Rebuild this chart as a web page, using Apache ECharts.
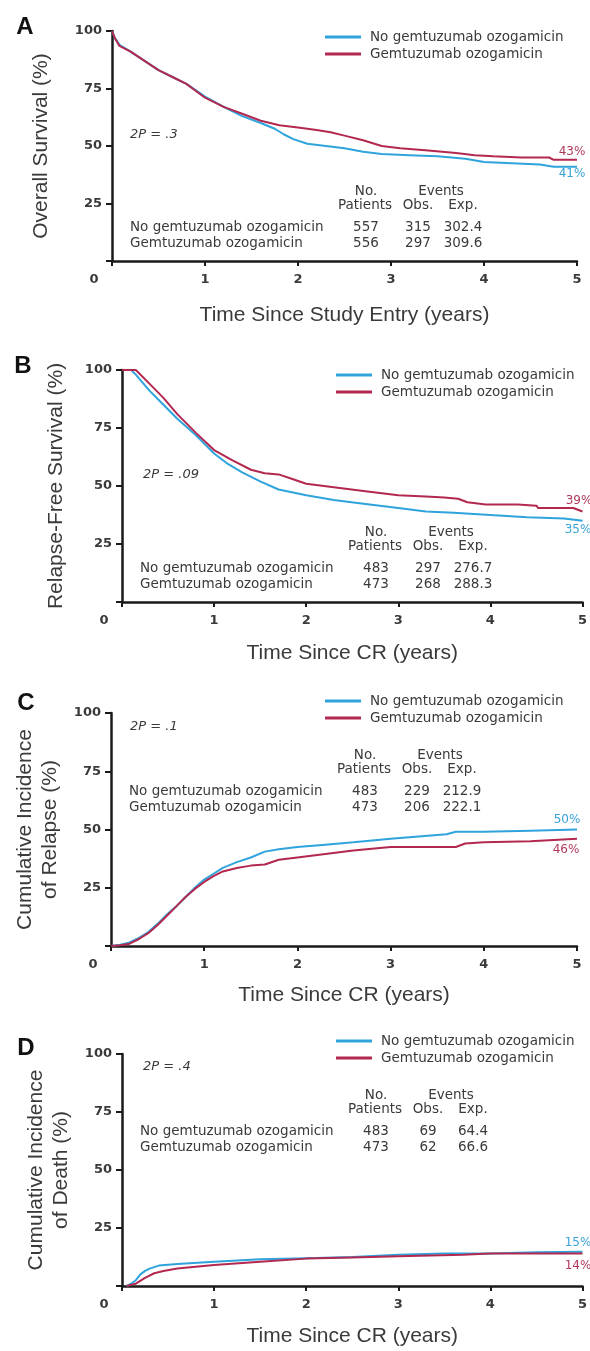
<!DOCTYPE html>
<html><head><meta charset="utf-8">
<script src="https://cdn.jsdelivr.net/npm/echarts/dist/echarts.min.js"></script>
<style>html,body{margin:0;padding:0;background:#fff}#c{width:590px;height:1351px}</style>
</head><body><div id="c"></div>
<script>
// ---------- DATA ----------
const groupNames = ['No gemtuzumab ozogamicin', 'Gemtuzumab ozogamicin'];
const panelLetters = ['A', 'B', 'C', 'D'];
const yTitles = ['Overall Survival (%)', 'Relapse-Free Survival (%)', 'Cumulative Incidence\nof Relapse (%)', 'Cumulative Incidence\nof Death (%)'];
const xTitles = ['Time Since Study Entry (years)', 'Time Since CR (years)', 'Time Since CR (years)', 'Time Since CR (years)'];
const pTexts = ['2P = .3', '2P = .09', '2P = .1', '2P = .4'];
const xTicks = [0, 1, 2, 3, 4, 5];
const yTicks = [0, 25, 50, 75, 100];
const tableHeader = [['No.', 'Events'], ['Patients', 'Obs.', 'Exp.']];

// [time (years), percent]
const osNoGO = [[0,100],[0.03,97],[0.08,94],[0.2,91],[0.35,87],[0.5,83],[0.65,80],[0.8,77],[1.0,71.5],[1.2,67],[1.4,63],[1.6,60],[1.75,57.5],[1.85,55],[1.95,53],[2.1,51],[2.3,50],[2.5,49],[2.7,47.5],[2.9,46.5],[3.2,46],[3.5,45.5],[3.8,44.5],[4.0,43],[4.3,42.5],[4.6,42],[4.75,41],[5,41]];
const osGO = [[0,100],[0.03,97],[0.08,93.5],[0.2,91],[0.35,87],[0.5,83],[0.65,80],[0.8,77],[1.0,71],[1.2,67],[1.4,64],[1.6,61],[1.8,59],[2.0,58],[2.2,57],[2.35,56],[2.5,54.5],[2.7,52.5],[2.9,50],[3.1,49],[3.4,48],[3.7,47],[3.9,46],[4.1,45.5],[4.4,45],[4.7,45],[4.75,44],[5,44]];
const rfsNoGO = [[0,100],[0.1,100],[0.15,98],[0.3,91],[0.45,85],[0.6,79],[0.8,72],[1.0,64],[1.15,59.5],[1.3,56],[1.5,52],[1.7,48.5],[2.0,46],[2.3,44],[2.6,42.5],[3.0,40.5],[3.3,39],[3.6,38.5],[4.0,37.5],[4.4,36.5],[4.8,36],[5,35]];
const rfsGO = [[0,100],[0.15,100],[0.3,94],[0.45,88],[0.6,81],[0.8,73],[1.0,65.5],[1.2,61],[1.4,57],[1.55,55.5],[1.7,55],[1.85,53],[2.0,51],[2.3,49.5],[2.6,48],[2.8,47],[3.0,46],[3.3,45.5],[3.5,45],[3.65,44.5],[3.75,43],[3.95,42],[4.3,42],[4.5,41.5],[4.52,40.5],[4.9,40.5],[5,39]];
const relNoGO = [[0,0],[0.1,0.5],[0.2,1.5],[0.3,3.5],[0.4,6],[0.5,9.5],[0.6,13.5],[0.7,17],[0.8,21],[0.9,25],[1.0,28.5],[1.1,31],[1.2,33.5],[1.35,36],[1.5,38],[1.65,40.5],[1.8,41.5],[2.0,42.5],[2.3,43.5],[2.6,44.5],[3.0,46],[3.3,47],[3.6,48],[3.7,49],[4.0,49],[4.5,49.5],[5,50]];
const relGO = [[0,0],[0.1,0.3],[0.2,1],[0.3,3],[0.4,5.5],[0.5,9],[0.6,13],[0.7,17],[0.8,21],[0.9,24.5],[1.0,27.5],[1.1,30],[1.2,32],[1.35,33.5],[1.5,34.5],[1.65,35],[1.8,37],[2.0,38],[2.3,39.5],[2.6,41],[3.0,42.5],[3.4,42.5],[3.7,42.5],[3.8,44],[4.0,44.5],[4.5,45],[5,46]];
const deathNoGO = [[0.05,0],[0.1,1],[0.15,2.5],[0.2,5],[0.25,6.5],[0.3,7.5],[0.4,8.8],[0.6,9.5],[1.0,10.5],[1.5,11.5],[2.0,12],[2.5,12.5],[3.0,13.5],[3.5,14],[4.0,14],[4.5,14.5],[5,14.8]];
const deathGO = [[0.05,0],[0.15,1],[0.25,3.5],[0.35,5.5],[0.45,6.5],[0.6,7.5],[1.0,9],[1.5,10.5],[2.0,11.8],[2.5,12.3],[3.0,12.8],[3.7,13.5],[4.0,14],[4.5,14],[5,14]];

const tableA = [['557','315','302.4'], ['556','297','309.6']];
const tableB = [['483','297','276.7'], ['473','268','288.3']];
const tableC = [['483','229','212.9'], ['473','206','222.1']];
const tableD = [['483','69','64.4'], ['473','62','66.6']];

const endLabelsA = ['41%', '43%'];
const endLabelsB = ['35%', '39%'];
const endLabelsC = ['50%', '46%'];
const endLabelsD = ['15%', '14%'];

// ---------- STYLE / LAYOUT ----------
const BLUE = '#2fa3dc', RED = '#b3284f';
const LBLUE = '#3aa2d6', LRED = '#b2385a';
const TXT = '#3a3a3a';
const SMALL = 'DejaVu Sans';
const BIG = 'Liberation Sans';

const layout = [
  {grid:{left:112, top:31, width:465, height:230}, letter:[25,27], tdy:-70, p:[18,-126], yGap:58, xGap:44,
   legend:{left:320, top:24}, ends:[[572,174],[572,152]]},
  {grid:{left:122, top:370, width:466, height:232}, letter:[23,366], tdy:-70, p:[21,-127], yGap:53, xGap:41,
   legend:{left:331, top:362}, ends:[[578,530],[579,501]]},
  {grid:{left:111, top:713, width:466, height:233}, letter:[26,703], tdy:-191, p:[19,-219], yGap:44, xGap:39,
   legend:{left:320, top:688}, ends:[[567,820],[566,850]]},
  {grid:{left:122, top:1054, width:466, height:232}, letter:[26,1048], tdy:-191, p:[21,-219], yGap:46, xGap:40,
   legend:{left:331, top:1028}, ends:[[578,1243],[578,1266]]}
];
const seriesData = [[osNoGO, osGO], [rfsNoGO, rfsGO], [relNoGO, relGO], [deathNoGO, deathGO]];
const tables = [tableA, tableB, tableC, tableD];
const endLabels = [endLabelsA, endLabelsB, endLabelsC, endLabelsD];

function txt(t, x, y, align, opt) {
  opt = opt || {};
  return {type:'text', x:x, y:y, rotation: opt.rotation || 0, z:100,
    style:{text:t, fill: opt.color || TXT, fontSize: opt.size || 13.5, fontFamily: opt.family || SMALL,
      fontWeight: opt.weight || 'normal', fontStyle: opt.style || 'normal',
      align: align, textAlign: align, verticalAlign:'middle', textVerticalAlign:'middle'}};
}

const grids = [], xAxes = [], yAxes = [], series = [], legends = [], graphics = [];
layout.forEach((L, i) => {
  grids.push(L.grid);
  const ox = L.grid.left, oy = L.grid.top + L.grid.height;
  xAxes.push({type:'value', gridIndex:i, min:xTicks[0], max:xTicks[xTicks.length-1], interval:1,
    name:xTitles[i], nameLocation:'middle', nameGap:L.xGap,
    nameTextStyle:{fontFamily:BIG, fontSize:21, color:TXT},
    axisLine:{show:true, onZero:false, lineStyle:{color:'#1a1a1a', width:2.5}},
    axisTick:{show:true, length:5, lineStyle:{color:'#1a1a1a', width:2}},
    splitLine:{show:false},
    axisLabel:{margin:12, color:TXT, fontFamily:SMALL, fontWeight:'bold', fontSize:13,
      formatter: v => v === 0 ? '' : String(v)}});
  yAxes.push({type:'value', gridIndex:i, min:yTicks[0], max:yTicks[yTicks.length-1], interval:25,
    name:yTitles[i], nameLocation:'middle', nameGap:L.yGap, nameRotate:90,
    nameTextStyle:{fontFamily:BIG, fontSize:21, color:TXT, lineHeight:25},
    axisLine:{show:true, onZero:false, lineStyle:{color:'#1a1a1a', width:2.5}},
    axisTick:{show:true, length:6, lineStyle:{color:'#1a1a1a', width:2}},
    splitLine:{show:false},
    axisLabel:{margin:10, color:TXT, fontFamily:SMALL, fontWeight:'bold', fontSize:13,
      formatter: v => v === 0 ? '' : String(v)}});
  [0,1].forEach(g => {
    series.push({type:'line', name:groupNames[g], xAxisIndex:i, yAxisIndex:i, data:seriesData[i][g],
      showSymbol:false, symbol:'none', color: g===0 ? BLUE : RED,
      lineStyle:{width:2, color: g===0 ? BLUE : RED}, z: 3 + g, animation:false});
  });
  legends.push({orient:'vertical', left:L.legend.left, top:L.legend.top, itemWidth:36, itemHeight:3,
    itemGap:1, icon:'rect', data:groupNames, selectedMode:false,
    textStyle:{fontFamily:SMALL, fontSize:13.5, color:TXT, lineHeight:16, padding:[0,0,0,4]}});

  graphics.push(txt(panelLetters[i], L.letter[0], L.letter[1], 'center', {family:BIG, size:24, weight:'bold', color:'#111'}));
  graphics.push(txt(String(xTicks[0]), ox - 18, oy + 19, 'center', {weight:'bold', size:13}));
  graphics.push(txt(pTexts[i], ox + L.p[0], oy + L.p[1], 'left', {style:'italic', size:13}));
  const hy = oy + L.tdy;
  graphics.push(txt(tableHeader[0][0], ox + 254, hy, 'center'));
  graphics.push(txt(tableHeader[0][1], ox + 329, hy, 'center'));
  graphics.push(txt(tableHeader[1][0], ox + 253, hy + 14, 'center'));
  graphics.push(txt(tableHeader[1][1], ox + 306, hy + 14, 'center'));
  graphics.push(txt(tableHeader[1][2], ox + 351, hy + 14, 'center'));
  tables[i].forEach((r, k) => {
    const y = hy + 36 + k * 16.5;
    graphics.push(txt(groupNames[k], ox + 18, y, 'left'));
    graphics.push(txt(r[0], ox + 254, y, 'center'));
    graphics.push(txt(r[1], ox + 306, y, 'center'));
    graphics.push(txt(r[2], ox + 351, y, 'center'));
  });
  endLabels[i].forEach((t, k) => {
    graphics.push(txt(t, L.ends[k][0], L.ends[k][1], 'center', {size:12, color: k===0 ? LBLUE : LRED}));
  });
});

const chart = echarts.init(document.getElementById('c'), null, {renderer:'canvas'});
chart.setOption({
  animation:false,
  backgroundColor:'#ffffff',
  grid:grids, xAxis:xAxes, yAxis:yAxes, series:series, legend:legends,
  graphic:{elements:graphics}
});
</script></body></html>
